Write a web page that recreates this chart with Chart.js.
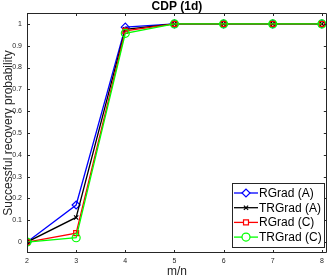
<!DOCTYPE html>
<html><head><meta charset="utf-8">
<script src="https://cdn.jsdelivr.net/npm/chart.js@4"></script>
<style>html,body{margin:0;padding:0;background:#fff}#wrap{width:332px;height:279px}</style>
</head><body><div id="wrap"><canvas id="c" width="332" height="279"></canvas></div>
<script>
const xValues = [2, 3, 4, 5, 6, 7, 8];
const rgradA  = [0, 0.17, 0.985, 1, 1, 1, 1];
const trgradA = [0, 0.113, 0.975, 1, 1, 1, 1];
const rgradC  = [0, 0.041, 0.968, 1, 1, 1, 1];
const trgradC = [0, 0.02, 0.957, 1, 1, 1, 1];
const seriesNames = ['RGrad (A)', 'TRGrad (A)', 'RGrad (C)', 'TRGrad (C)'];
const yTicks = [0, 0.1, 0.2, 0.3, 0.4, 0.5, 0.6, 0.7, 0.8, 0.9, 1];

const mk = (arr) => arr.map((v, i) => ({x: xValues[i], y: v}));
const FONT = 'Liberation Sans, Arial, sans-serif';

const boxPlugin = {
  id: 'box',
  afterDatasetsDraw(chart) {
    const {ctx, chartArea: a, scales} = chart;
    ctx.save();
    ctx.strokeStyle = '#262626';
    ctx.lineWidth = 1;
    ctx.beginPath();
    ctx.rect(Math.round(a.left)+0.5, Math.round(a.top)+0.5, Math.round(a.right-a.left)-1, Math.round(a.bottom-a.top)-1);
    ctx.stroke();
    const tl = 3;
    ctx.beginPath();
    xValues.forEach(v => {
      const px = Math.round(scales.x.getPixelForValue(v)) + 0.5;
      ctx.moveTo(px, a.bottom); ctx.lineTo(px, a.bottom - tl);
      ctx.moveTo(px, a.top); ctx.lineTo(px, a.top + tl);
    });
    yTicks.forEach(v => {
      const py = Math.round(scales.y.getPixelForValue(v)) + 0.5;
      ctx.moveTo(a.left, py); ctx.lineTo(a.left + tl, py);
      ctx.moveTo(a.right, py); ctx.lineTo(a.right - tl, py);
    });
    ctx.stroke();
    // title
    ctx.fillStyle = '#000';
    ctx.font = 'bold 12px ' + FONT;
    ctx.textAlign = 'center';
    ctx.textBaseline = 'middle';
    ctx.fillText('CDP (1d)', (a.left + a.right) / 2, 6.5);
    // legend
    const lx = 232, ly = 183, lw = 92, lh = 64;
    ctx.fillStyle = '#fff';
    ctx.fillRect(lx, ly, lw, lh);
    ctx.strokeStyle = '#262626';
    ctx.lineWidth = 1;
    ctx.strokeRect(lx + 0.5, ly + 0.5, lw, lh);
    chart.data.datasets.forEach((ds, i) => {
      const yy = ly + 10 + i * 14.7;
      ctx.strokeStyle = ds.borderColor;
      ctx.lineWidth = 1.3;
      ctx.beginPath(); ctx.moveTo(lx + 2, yy); ctx.lineTo(lx + 26, yy); ctx.stroke();
      ctx.fillStyle = '#fff';
      ctx.strokeStyle = ds.borderColor;
      ctx.lineWidth = 1.2;
      Chart.helpers.drawPoint(ctx, {pointStyle: ds.pointStyle, radius: ds.pointRadius, borderWidth: 1.2, rotation: 0}, lx + 14, yy);
      ctx.fillStyle = '#000';
      ctx.font = '12px ' + FONT;
      ctx.textAlign = 'left';
      ctx.fillText(ds.label, lx + 27, yy + 0.5);
    });
    ctx.restore();
  }
};

const mkDs = (label, data, color, style, order, r) => ({
  label, data: mk(data), borderColor: color, backgroundColor: 'rgba(0,0,0,0)',
  pointStyle: style, pointRadius: r, pointBorderColor: color, pointBackgroundColor: 'rgba(0,0,0,0)',
  pointBorderWidth: 1.2, borderWidth: 1.3, tension: 0, order
});

new Chart(document.getElementById('c'), {
  type: 'line',
  data: {
    datasets: [
      mkDs(seriesNames[0], rgradA, '#0000ff', 'rectRot', 4, 4),
      mkDs(seriesNames[1], trgradA, '#000000', 'crossRot', 3, 3),
      mkDs(seriesNames[2], rgradC, '#ff0000', 'rect', 2, 3.5),
      mkDs(seriesNames[3], trgradC, '#00ff00', 'circle', 1, 4)
    ]
  },
  options: {
    responsive: false, animation: false, devicePixelRatio: 1,
    layout: {padding: {top: 13, right: 1, left: 0, bottom: 0}},
    plugins: {legend: {display: false}, title: {display: false}, tooltip: {enabled: false}},
    scales: {
      x: {
        type: 'linear', min: 2, max: 8.1,
        afterBuildTicks: s => { s.ticks = xValues.map(v => ({value: v})); },
        grid: {display: false, drawTicks: false}, border: {display: false},
        ticks: {font: {size: 7, family: FONT}, color: '#262626', padding: 4, maxRotation: 0},
        title: {display: true, text: 'm/n', font: {size: 12, family: FONT}, color: '#262626', padding: {top: 0, bottom: 0}},
        afterFit: s => { s.height = 26; }
      },
      y: {
        min: -0.05, max: 1.05,
        afterBuildTicks: s => { s.ticks = yTicks.map(v => ({value: v})); },
        grid: {display: false, drawTicks: false}, border: {display: false},
        ticks: {font: {size: 7, family: FONT}, color: '#262626', padding: 5, callback: v => String(Math.round(v*10)/10)},
        title: {display: true, text: 'Successful recovery probability', font: {size: 12, family: FONT}, color: '#262626', padding: {top: 1, bottom: 0}},
        afterFit: s => { s.width = 27; }
      }
    }
  },
  plugins: [boxPlugin]
});
</script></body></html>
